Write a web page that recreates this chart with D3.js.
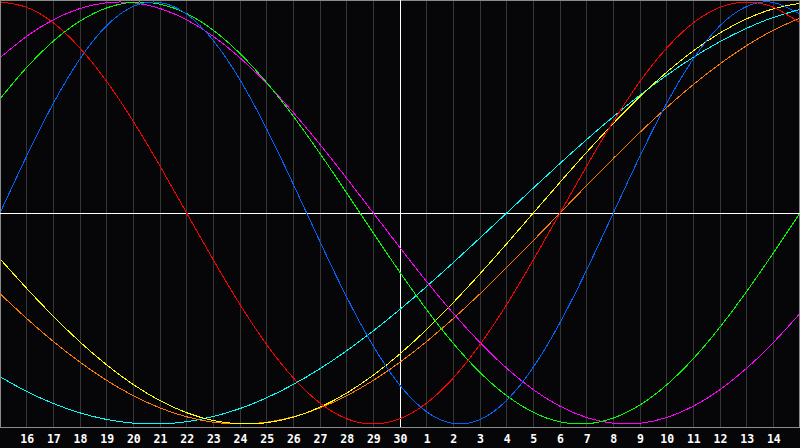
<!DOCTYPE html>
<html>
<head>
<meta charset="utf-8">
<script src="https://cdn.jsdelivr.net/npm/d3@7"></script>
<style>
  html, body { margin: 0; padding: 0; background: #060608; }
  svg { display: block; }
</style>
</head>
<body>
<svg id="chart" width="800" height="448"></svg>
<script>
// Day labels under each grid line (left edge = day 15, x index 0..30)
const dayLabels = [16,17,18,19,20,21,22,23,24,25,26,27,28,29,30,1,2,3,4,5,6,7,8,9,10,11,12,13,14];
const dayIndex = d3.range(0, 31);

// Cycle values (-1..1) read per day index 0..30
const physical = [0,0.2698,0.5196,0.7308,0.8879,0.9791,0.9977,0.9423,0.8170,0.6311,0.3984,0.1362,-0.1362,-0.3984,-0.6311,-0.8170,-0.9423,-0.9977,-0.9791,-0.8879,-0.7308,-0.5196,-0.2698,0,0.2698,0.5196,0.7308,0.8879,0.9791,0.9977,0.9423];
const emotional = [1,0.9749,0.9010,0.7818,0.6235,0.4339,0.2225,0,-0.2225,-0.4339,-0.6235,-0.7818,-0.9010,-0.9749,-1,-0.9749,-0.9010,-0.7818,-0.6235,-0.4339,-0.2225,0,0.2225,0.4339,0.6235,0.7818,0.9010,0.9749,1,0.9749,0.9010];
const intellectual = [0.5406,0.6901,0.8146,0.9096,0.9718,0.9989,0.9898,0.9450,0.8660,0.7557,0.6182,0.4582,0.2817,0.0951,-0.0951,-0.2817,-0.4582,-0.6182,-0.7557,-0.8660,-0.9450,-0.9898,-0.9989,-0.9718,-0.9096,-0.8146,-0.6901,-0.5406,-0.3717,-0.1893,0];
const intuitive = [0.7357,0.8372,0.9158,0.9694,0.9966,0.9966,0.9694,0.9158,0.8372,0.7357,0.6142,0.4759,0.3247,0.1646,0,-0.1646,-0.3247,-0.4759,-0.6142,-0.7357,-0.8372,-0.9158,-0.9694,-0.9966,-0.9966,-0.9694,-0.9158,-0.8372,-0.7357,-0.6142,-0.4759];
const aesthetic = [-0.2174,-0.3572,-0.4894,-0.6112,-0.7199,-0.8133,-0.8894,-0.9465,-0.9834,-0.9993,-0.9940,-0.9675,-0.9203,-0.8535,-0.7686,-0.6673,-0.5518,-0.4244,-0.2881,-0.1456,0,0.1456,0.2881,0.4244,0.5518,0.6673,0.7686,0.8535,0.9203,0.9675,0.9940];
const awareness = [-0.3827,-0.5,-0.6088,-0.7071,-0.7934,-0.8660,-0.9239,-0.9659,-0.9914,-1,-0.9914,-0.9659,-0.9239,-0.8660,-0.7934,-0.7071,-0.6088,-0.5,-0.3827,-0.2588,-0.1305,0,0.1305,0.2588,0.3827,0.5,0.6088,0.7071,0.7934,0.8660,0.9239];
const spiritual = [-0.7765,-0.8456,-0.9028,-0.9473,-0.9786,-0.9961,-0.9996,-0.9890,-0.9646,-0.9267,-0.8757,-0.8125,-0.7378,-0.6528,-0.5586,-0.4566,-0.3482,-0.2349,-0.1183,0,0.1183,0.2349,0.3482,0.4566,0.5586,0.6528,0.7378,0.8125,0.8757,0.9267,0.9646];

const seriesNames = ["spiritual","awareness","aesthetic","intuitive","intellectual","physical","emotional"];
const seriesValues = [spiritual, awareness, aesthetic, intuitive, intellectual, physical, emotional];
const seriesColors = ["#00ffff","#ff7a00","#ffff00","#ff00ff","#00ff00","#0064ff","#ff0000"];

const W = 800, H = 448;
const plotBottom = 427;
const svg = d3.select("#chart");

svg.append("rect").attr("width", W).attr("height", H).attr("fill", "#060608");

const x = d3.scaleLinear().domain([0, 30]).range([0, 800]);
const y = d3.scaleLinear().domain([-1, 1]).range([424, 2]);
const px = v => Math.floor(v) + 0.5;

// vertical day grid lines
svg.append("g").selectAll("line")
  .data(d3.range(1, 30))
  .join("line")
  .attr("x1", d => px(x(d))).attr("x2", d => px(x(d)))
  .attr("y1", 0).attr("y2", plotBottom)
  .attr("stroke", "#363636").attr("stroke-width", 1)
  .attr("shape-rendering", "crispEdges");

// border
svg.append("rect")
  .attr("x", 0.5).attr("y", 0.5).attr("width", 798.5).attr("height", plotBottom)
  .attr("fill", "none").attr("stroke", "#8a8a8a").attr("stroke-width", 1)
  .attr("shape-rendering", "crispEdges");

// white center axes
svg.append("line")
  .attr("x1", 0).attr("x2", 800).attr("y1", px(y(0))).attr("y2", px(y(0)))
  .attr("stroke", "#ffffff").attr("stroke-width", 1).attr("shape-rendering", "crispEdges");
svg.append("line")
  .attr("x1", px(x(15))).attr("x2", px(x(15))).attr("y1", 0).attr("y2", plotBottom)
  .attr("stroke", "#ffffff").attr("stroke-width", 1).attr("shape-rendering", "crispEdges");

// clip
svg.append("clipPath").attr("id", "plotClip")
  .append("rect").attr("x", 1).attr("y", 1).attr("width", 798).attr("height", plotBottom - 1);

const line = d3.line()
  .x((d, i) => x(dayIndex[i]))
  .y(d => y(d))
  .curve(d3.curveNatural);

svg.append("g").attr("clip-path", "url(#plotClip)")
  .selectAll("path")
  .data(seriesValues)
  .join("path")
  .attr("d", d => line(d))
  .attr("fill", "none")
  .attr("stroke", (d, i) => seriesColors[i])
  .attr("stroke-width", 1)
  .attr("shape-rendering", "crispEdges");

// day labels via axis
const axis = d3.axisBottom(x)
  .tickValues(d3.range(1, 30))
  .tickFormat(d => String(dayLabels[d - 1]))
  .tickSize(0)
  .tickPadding(0);

const gAxis = svg.append("g").attr("transform", "translate(0,435)").call(axis);
gAxis.select(".domain").remove();
gAxis.selectAll("text")
  .attr("fill", "#ffffff")
  .attr("dy", "0.71em")
  .style("font-family", "'DejaVu Sans Mono', 'Liberation Mono', monospace")
  .style("font-weight", "bold")
  .style("font-size", "11.5px");
</script>
</body>
</html>
